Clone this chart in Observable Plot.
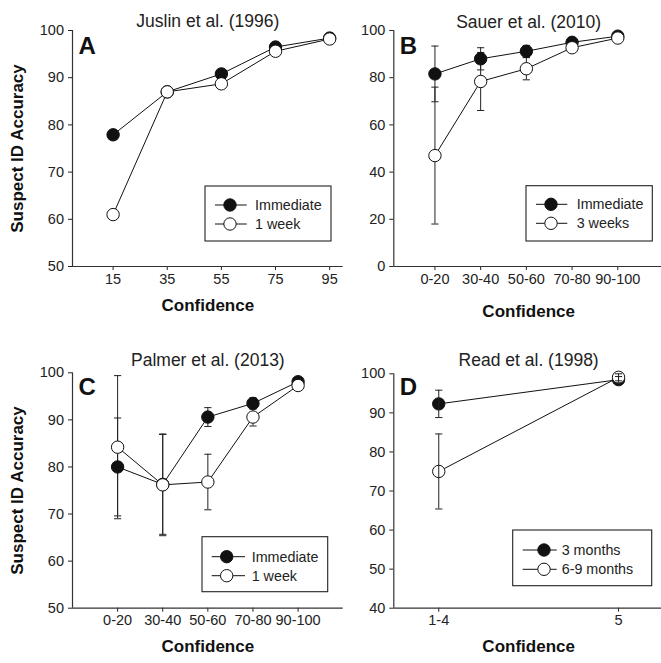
<!DOCTYPE html>
<html><head><meta charset="utf-8">
<script src="https://cdn.jsdelivr.net/npm/d3@7"></script>
<script src="https://cdn.jsdelivr.net/npm/@observablehq/plot@0.6"></script>
<style>
html,body{margin:0;padding:0;background:#fff;overflow:hidden;}
#chart{position:relative;width:661px;height:663px;overflow:hidden;background:#fff;}
#chart > svg{position:absolute;}
</style></head><body><div id="chart"></div>
<script>
// ---- Data ----
// Panel A: Juslin et al. (1996)
const confA = [15, 35, 55, 75, 95];
const immA = [77.9, 87.0, 90.8, 96.5, 98.4];
const weekA = [61.0, 87.0, 88.7, 95.6, 98.2];

// Panels B & C confidence bins
const binsBC = ["0-20", "30-40", "50-60", "70-80", "90-100"];
// Panel B: Sauer et al. (2010)
const immB = [81.6, 88.0, 91.2, 95.0, 97.6];
const immBErr = [11.8, 4.7, 2.5, 1.2, 0.8];
const weeksB = [47.0, 78.4, 83.8, 92.7, 96.8];
const weeksBErr = [29.0, 12.3, 4.7, 1.5, 0.8];

// Panel C: Palmer et al. (2013)
const immC = [80.0, 76.3, 90.6, 93.5, 98.1];
const immCErr = [10.4, 10.6, 2.0, 1.2, 0.6];
const weekC = [84.2, 76.2, 76.8, 90.6, 97.3];
const weekCErr = [15.2, 10.8, 5.9, 1.9, 0.8];

// Panel D: Read et al. (1998)
const binsD = ["1-4", "5"];
const m3D = [92.3, 98.5];
const m3DErr = [3.5, 0.8];
const m69D = [75.0, 99.1];
const m69DErr = [9.6, 0.9];

// ---- Drawing ----
const FONT = "'Liberation Sans', Arial, Helvetica, sans-serif";
const INK = "#111";
const AXIS = "#333";
const capSymbol = {draw(ctx, size) { const w = Math.sqrt(size / Math.PI); ctx.moveTo(-w, 0); ctx.lineTo(w, 0); }};

function rowsOf(xs, vals, errs, series) {
  return xs.map((x, i) => ({x, y: vals[i], lo: errs ? vals[i] - errs[i] : null, hi: errs ? vals[i] + errs[i] : null, series}));
}

function panel(o) {
  const r1 = rowsOf(o.xs, o.s1, o.e1, o.n1);
  const r2 = rowsOf(o.xs, o.s2, o.e2, o.n2);
  const all = r1.concat(r2);
  const errMarks = o.e1 ? [
    Plot.ruleX(all, {x: "x", y1: "lo", y2: "hi", stroke: "#222", strokeWidth: 1}),
    Plot.dot(all, {x: "x", y: "lo", symbol: capSymbol, r: 3.6, stroke: "#222", fill: "none", strokeWidth: 1}),
    Plot.dot(all, {x: "x", y: "hi", symbol: capSymbol, r: 3.6, stroke: "#222", fill: "none", strokeWidth: 1})
  ] : [];
  const marks = [
    Plot.ruleY([o.yDomain[0]], {stroke: AXIS, strokeWidth: 1.2}),
    Plot.ruleX([o.xDomain[0]], {stroke: AXIS, strokeWidth: 1.2}),
    ...(o.errTop ? [] : errMarks),
    Plot.line(all, {x: "x", y: "y", z: "series", stroke: INK, strokeWidth: 1}),
    Plot.dot(r1, {x: "x", y: "y", r: 6.2, fill: INK, stroke: INK, strokeWidth: 1}),
    Plot.dot(r2, {x: "x", y: "y", r: 6.2, fill: "white", stroke: INK, strokeWidth: 1}),
    ...(o.errTop ? errMarks : []),
    Plot.text([o.title], {frameAnchor: "top", dy: o.titleDy, text: d => d, fontSize: 17.5, fill: "#222"}),
    Plot.text([o.letter], {frameAnchor: "top-left", textAnchor: "start", lineAnchor: "bottom", dx: 6, dy: o.letterDy, text: d => d, fontSize: 24, fontWeight: "bold", fill: "#111"}),
    Plot.text(["Confidence"], {frameAnchor: "bottom", dy: o.xlabelDy, text: d => d, fontSize: 17, fontWeight: "bold", fill: "#111"})
  ];
  if (o.ylabel) marks.push(Plot.text([o.ylabel], {frameAnchor: "left", textAnchor: "middle", lineAnchor: "middle", rotate: -90, dx: -55, text: d => d, fontSize: 17, fontWeight: "bold", fill: "#111"}));
  const svg = Plot.plot({
    width: o.width, height: o.height,
    marginLeft: o.ml, marginRight: o.mr, marginTop: o.mt, marginBottom: o.mb,
    style: {fontFamily: FONT, fontSize: "14.5px", color: "#222", background: "transparent", overflow: "visible"},
    x: {type: "linear", domain: o.xDomain, ticks: o.xTicks, tickFormat: o.xFormat, tickSize: 4, tickPadding: 3, label: null},
    y: {domain: o.yDomain, ticks: o.yTicks, tickFormat: d => String(d), tickSize: 4, tickPadding: 4.5, label: null},
    marks
  });
  svg.style.left = o.left + "px";
  svg.style.top = o.top + "px";
  // legend box (layout positions given in page coordinates)
  const L = o.legend;
  const g = d3.select(svg).append("g").attr("transform", `translate(${-o.left},${-o.top})`)
    .attr("font-family", FONT).attr("font-size", 14.3).attr("text-anchor", "start");
  g.append("rect").attr("x", L.box[0]).attr("y", L.box[1]).attr("width", L.box[2] - L.box[0]).attr("height", L.box[3] - L.box[1])
    .attr("fill", "white").attr("stroke", "#222").attr("stroke-width", 1.1);
  [[o.n1, INK], [o.n2, "white"]].forEach(([name, fill], i) => {
    const y = L.rows[i];
    g.append("line").attr("x1", L.line[0]).attr("x2", L.line[1]).attr("y1", y).attr("y2", y).attr("stroke", INK).attr("stroke-width", 1);
    g.append("circle").attr("cx", L.marker).attr("cy", y).attr("r", 6.2).attr("fill", fill).attr("stroke", INK).attr("stroke-width", 1);
    g.append("text").attr("x", L.text).attr("y", y).attr("dy", "0.35em").attr("text-anchor", "start").attr("fill", "#222").text(name);
  });
  document.getElementById("chart").appendChild(svg);
}

const idx5 = binsBC.map((_, i) => i);
const idx2 = binsD.map((_, i) => i);

panel({
  left: 0, top: 0, width: 345, height: 330, ml: 72, mr: 2.3, mt: 30, mb: 64,
  xDomain: [0, 100], xTicks: confA, xFormat: d => String(d),
  yDomain: [50, 100], yTicks: [50, 60, 70, 80, 90, 100],
  xs: confA, s1: immA, s2: weekA, n1: "Immediate", n2: "1 week",
  title: "Juslin et al. (1996)", titleDy: -15.5, letter: "A", letterDy: 23.3, xlabelDy: 44,
  ylabel: "Suspect ID Accuracy",
  legend: {box: [205, 186, 331, 241], line: [215, 246.7], marker: 230, text: 255, rows: [205, 224]}
});

panel({
  left: 330, top: 0, width: 335, height: 330, ml: 63.3, mr: 2, mt: 30, mb: 64,
  xDomain: [-0.9, 5], xTicks: idx5, xFormat: i => binsBC[i],
  yDomain: [0, 100], yTicks: [0, 20, 40, 60, 80, 100],
  xs: idx5, s1: immB, e1: immBErr, s2: weeksB, e2: weeksBErr, n1: "Immediate", n2: "3 weeks",
  title: "Sauer et al. (2010)", titleDy: -14.7, letter: "B", letterDy: 23.3, xlabelDy: 50,
  legend: {box: [526, 185.7, 652.3, 241], line: [536, 567.3], marker: 551, text: 576.7, rows: [204.3, 223.3]}
});

panel({
  left: 0, top: 342, width: 345, height: 321, ml: 72, mr: 2.3, mt: 30.3, mb: 55.3,
  xDomain: [-1, 5], xTicks: idx5, xFormat: i => binsBC[i],
  yDomain: [50, 100], yTicks: [50, 60, 70, 80, 90, 100],
  xs: idx5, s1: immC, e1: immCErr, s2: weekC, e2: weekCErr, n1: "Immediate", n2: "1 week",
  title: "Palmer et al. (2013)", titleDy: -19.5, letter: "C", letterDy: 21.7, xlabelDy: 44,
  ylabel: "Suspect ID Accuracy",
  legend: {box: [202, 536.7, 327.7, 591.7], line: [211.7, 245], marker: 226.7, text: 251.7, rows: [556.7, 575.7]}
});

panel({
  left: 330, top: 343, width: 335, height: 320, ml: 63.3, mr: 2, mt: 30.3, mb: 55.3,
  xDomain: [-0.25, 1.25], xTicks: idx2, xFormat: i => binsD[i],
  yDomain: [40, 100], yTicks: [40, 50, 60, 70, 80, 90, 100],
  xs: idx2, s1: m3D, e1: m3DErr, s2: m69D, e2: m69DErr, n1: "3 months", n2: "6-9 months", errTop: true,
  title: "Read et al. (1998)", titleDy: -20.5, letter: "D", letterDy: 20.7, xlabelDy: 44,
  legend: {box: [512.7, 530, 651.7, 585.7], line: [522.7, 556.7], marker: 544, text: 561.7, rows: [550, 569.3]}
});
</script></body></html>
